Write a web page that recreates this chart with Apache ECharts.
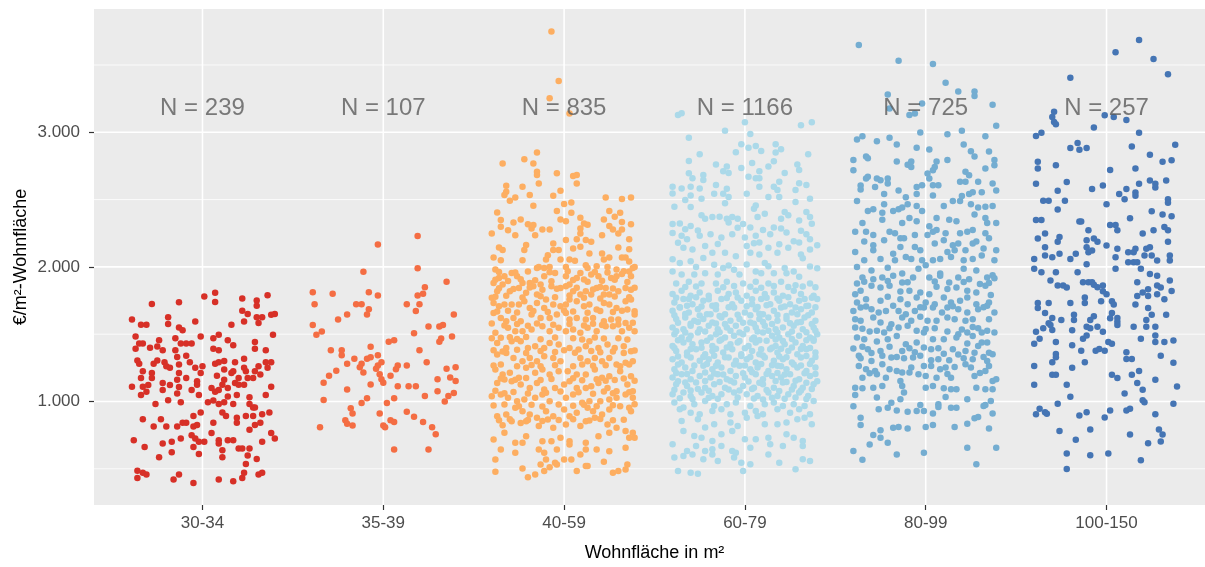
<!DOCTYPE html>
<html>
<head>
<meta charset="utf-8">
<title>€/m² nach Wohnfläche</title>
<script src="https://cdn.jsdelivr.net/npm/echarts@6.0.0/dist/echarts.min.js"></script>
<style>
  html, body { margin: 0; padding: 0; background: #fff; }
  #chart { width: 1205px; height: 567px; }
</style>
</head>
<body>
<div id="chart"></div>
<script>
// Kategorien und Anzahl je Gruppe
const categories = ['30-34', '35-39', '40-59', '60-79', '80-99', '100-150'];
const counts = [239, 107, 835, 1166, 725, 257];
const yTicks = [1000, 2000, 3000];
const yMinor = [500, 1500, 2500, 3500];
const nLabelY = 3180;

// Punkte je Gruppe: [Jitter-Versatz, €/m²]
const pts3034 = [
  [0.01,1780],[0.07,1808],[0.07,1740],[0.22,1765],[0.30,1750],[0.30,1712],[0.36,1790],[-0.28,1725],[-0.13,1738],[-0.39,1610],
  [-0.34,1570],[-0.31,1570],[-0.19,1625],[-0.19,1575],[-0.13,1550],[-0.11,1530],[-0.04,1595],[0.22,1675],[0.25,1650],[0.23,1595],
  [0.30,1625],[0.33,1625],[0.31,1583],[0.38,1645],[0.40,1650],[0.16,1570],[0.39,1495],
  [-0.37,1482],[-0.35,1430],[-0.33,1430],[-0.37,1392],[-0.29,1400],[-0.25,1408],[-0.24,1455],[-0.22,1380],[-0.15,1470],[-0.15,1380],
  [-0.12,1430],[-0.09,1430],[-0.06,1430],[-0.01,1482],[0.06,1470],[0.09,1495],[0.06,1392],[0.09,1380],[0.14,1455],[0.17,1418],
  [0.29,1442],[0.29,1392],[0.35,1380],
  [-0.36,1305],[-0.35,1280],[-0.33,1225],[-0.34,1175],[-0.28,1212],[-0.28,1175],[-0.27,1280],[-0.25,1305],[-0.21,1292],[-0.20,1262],
  [-0.18,1250],[-0.14,1330],[-0.13,1275],[-0.09,1340],[-0.13,1212],[-0.14,1162],[-0.09,1175],[-0.07,1292],[-0.04,1250],[0.00,1262],
  [-0.01,1212],[-0.03,1150],[-0.03,1125],[0.07,1280],[0.09,1292],[0.12,1300],[0.12,1238],[0.18,1292],[0.17,1225],[0.23,1318],
  [0.23,1250],[0.31,1262],[0.35,1292],[0.38,1292],[0.36,1250],[0.29,1225],[0.32,1200],[0.24,1225],[0.20,1175],[0.25,1175],
  [0.28,1175],[0.08,1192],[0.12,1162],[0.16,1212],
  [-0.39,1110],[-0.33,1110],[-0.30,1122],[-0.34,1048],[-0.31,1072],[-0.22,1138],[-0.22,1085],[-0.18,1122],[-0.14,1060],[-0.13,1108],
  [-0.06,1085],[-0.02,1048],[0.05,1100],[0.07,1072],[0.09,1085],[0.11,1125],[0.14,1100],[0.14,1038],[0.18,1138],[0.19,1048],
  [0.20,1125],[0.23,1125],[0.38,1110],[0.35,1048],[0.26,1032],
  [-0.26,982],[-0.19,1010],[-0.12,995],[0.03,995],[0.06,1008],[0.09,982],[0.12,995],[0.17,982],[0.26,982],[0.28,955],[0.29,955],
  [-0.01,918],[0.11,918],[0.13,892],[0.19,880],[0.19,842],[0.24,892],[0.28,892],[0.33,905],[0.37,918],[0.32,842],[0.29,825],[0.26,790],
  [-0.33,868],[-0.23,868],[-0.27,815],[-0.20,815],[-0.14,815],[-0.11,842],[-0.09,842],[-0.05,815],[-0.03,825],[-0.05,892],
  [0.06,842],[0.05,765],[-0.06,750],[-0.04,725],[-0.02,700],[0.01,700],[-0.05,662],[-0.12,725],[-0.17,700],[-0.22,688],
  [-0.32,662],[-0.38,712],[-0.17,622],[-0.24,585],[-0.02,610],
  [0.09,712],[0.09,688],[0.14,712],[0.17,712],[0.11,638],[0.11,585],[0.20,650],[0.22,650],[0.26,650],[0.25,598],
  [0.30,572],[0.24,535],[0.33,700],[0.38,765],[0.40,725],
  [-0.36,485],[-0.36,432],[-0.33,470],[-0.31,458],[-0.13,458],[-0.16,420],[-0.05,395],[0.09,420],[0.17,408],[0.22,432],
  [0.23,470],[0.31,458],[0.33,470]
];

const pts3539 = [
  [0.19,2230],[-0.03,2166],[0.19,1990],[-0.11,1963],[0.35,1889],[0.23,1849],[-0.39,1812],[-0.28,1800],[-0.08,1812],[-0.03,1787],
  [0.19,1787],[0.22,1800],[-0.38,1723],[-0.15,1723],[-0.12,1723],[-0.08,1686],[-0.09,1646],[-0.20,1646],[-0.25,1609],[0.13,1723],
  [0.20,1723],[0.18,1673],[0.39,1646],[-0.39,1569],[-0.34,1520],[-0.37,1495],[0.25,1557],[0.31,1557],[0.33,1569],[0.17,1507],
  [0.38,1483],[0.32,1468],[0.31,1443],[0.03,1443],[0.06,1455],[-0.07,1406],[0.20,1381],[-0.29,1381],[-0.23,1381],[-0.23,1344],
  [-0.16,1317],[-0.09,1317],[-0.07,1329],[-0.03,1344],[-0.01,1292],[-0.12,1280],[-0.13,1255],[-0.20,1280],[-0.26,1228],[-0.30,1191],
  [-0.04,1243],[-0.03,1267],[-0.11,1215],[-0.02,1203],[-0.01,1166],[0.00,1139],[0.08,1267],[0.07,1240],[0.13,1267],[0.24,1292],
  [0.04,1191],[0.35,1243],[0.40,1255],[0.37,1178],[0.40,1153],[0.30,1166],[-0.33,1139],[-0.20,1089],[-0.07,1126],[0.08,1114],
  [0.14,1114],[0.18,1114],[0.23,1040],[0.30,1077],[0.39,1064],[0.36,1040],[0.34,1000],[-0.33,1012],[-0.09,1025],[-0.12,988],
  [0.02,988],[0.06,1025],[-0.18,950],[-0.17,911],[-0.21,861],[-0.20,834],[-0.17,822],[-0.35,809],[-0.02,911],[0.00,822],
  [0.01,809],[0.04,861],[0.06,847],[0.13,923],[0.17,886],[0.22,847],[0.27,809],[0.29,757],[0.06,644],[0.25,644]
];

const pts4059 = [
  [-0.07,3749],[-0.03,3382],[-0.08,3253],[0.03,3139],[-0.15,2849],[-0.34,2769],[-0.22,2799],[-0.17,2769],[-0.15,2707],[-0.15,2683],
  [-0.14,2620],[-0.04,2695],[0.05,2675],[0.07,2683],[0.07,2620],[-0.32,2603],[-0.32,2559],[-0.33,2534],[-0.30,2492],[-0.27,2516],
  [-0.23,2596],[-0.19,2534],[-0.06,2529],[-0.02,2566],[-0.17,2454],[0.00,2467],[0.04,2479],[0.23,2516],[0.32,2504],[0.37,2516],
  [-0.37,2405],[-0.35,2348],[-0.28,2330],[-0.24,2353],[-0.35,2298],[-0.31,2273],[-0.27,2236],[-0.40,2249],[-0.20,2316],[-0.18,2286],
  [-0.12,2278],[-0.08,2278],[-0.17,2311],[-0.04,2415],[-0.02,2353],[0.01,2340],[0.04,2402],[0.09,2365],[0.11,2323],[0.13,2313],
  [0.09,2286],[0.09,2249],[0.22,2353],[0.25,2415],[0.28,2373],[0.31,2402],[0.32,2333],[0.37,2316],[0.25,2303],[0.27,2278],
  [0.30,2249],[0.32,2278],[0.21,2236],[0.36,2206],[-0.21,2162],[-0.22,2125],[-0.34,2125],[-0.36,2144],[-0.39,2070],[-0.35,2050],
  [-0.23,2050],[-0.16,2236],[-0.06,2174],[-0.06,2125],[-0.03,2125],[0.01,2199],[0.07,2206],[0.05,2137],[0.09,2149],[0.12,2199],
  [0.15,2187],[0.14,2100],[-0.09,2087],[-0.10,2055],[-0.02,2055],[0.03,2055],[0.06,2045],[0.21,2100],[0.22,2055],[0.25,2070],
  [0.30,2144],[0.36,2132],[0.32,2070],[0.34,2070],[0.36,2040],[-0.14,2000],[-0.08,2000],[0.01,2000],[0.12,2013],[0.18,2005],
  [0.24,2000],[0.39,2000],
  [-0.38,1980],[-0.15,1992],[-0.11,1992],[0.13,1992],[0.29,1980],[0.38,1992],
  [-0.39,1881],[-0.36,1918],[-0.33,1930],[-0.29,1955],[-0.26,1930],[-0.23,1881],[-0.19,1881],[-0.13,1869],[-0.11,1930],[-0.05,1955],
  [0.01,1930],[0.03,1869],[0.07,1918],[0.11,1906],[0.15,1943],[0.19,1930],[0.23,1844],[0.26,1918],[0.29,1930],[0.33,1967],[0.37,1930],
  [-0.40,1770],[-0.37,1819],[-0.34,1869],[-0.30,1819],[-0.25,1844],[-0.21,1807],[-0.17,1856],[-0.15,1794],[-0.10,1757],[-0.07,1856],
  [-0.02,1844],[0.01,1856],[0.05,1819],[0.09,1794],[0.12,1819],[0.15,1794],[0.18,1844],[0.22,1794],[0.25,1794],[0.30,1819],
  [0.34,1844],[0.37,1831],
  [-0.39,1732],[-0.36,1708],[-0.33,1720],[-0.29,1720],[-0.25,1720],[-0.22,1745],[-0.19,1695],[-0.15,1732],[-0.11,1695],[-0.06,1720],
  [-0.02,1708],[0.01,1720],[0.03,1757],[0.07,1745],[0.11,1708],[0.14,1720],[0.18,1683],[0.22,1732],[0.25,1720],[0.29,1695],
  [0.34,1745],[0.37,1757],[0.35,1683],
  [-0.39,1658],[-0.35,1621],[-0.32,1596],[-0.28,1621],[-0.24,1596],[-0.18,1646],[-0.13,1621],[-0.08,1621],[-0.04,1646],[0.01,1658],
  [0.03,1609],[0.07,1621],[0.12,1609],[0.16,1621],[0.22,1596],[0.26,1609],[0.30,1609],[0.34,1584],[0.39,1646],
  [-0.38,1510],[-0.35,1473],[-0.31,1547],[-0.27,1522],[-0.23,1522],[-0.18,1534],[-0.12,1559],[-0.08,1522],[-0.03,1547],[0.01,1522],
  [0.05,1534],[0.09,1510],[0.13,1547],[0.18,1522],[0.23,1559],[0.27,1559],[0.32,1522],[0.36,1547],[0.39,1522],
  [-0.37,1435],[-0.32,1398],[-0.29,1448],[-0.24,1448],[-0.20,1398],[-0.16,1411],[-0.11,1398],[-0.08,1435],[-0.03,1423],[0.03,1398],
  [0.08,1386],[0.12,1411],[0.14,1448],[0.19,1398],[0.24,1423],[0.28,1398],[0.33,1411],[0.37,1374],
  [-0.37,1349],[-0.32,1361],[-0.28,1324],[-0.23,1299],[-0.19,1324],[-0.15,1299],[-0.11,1336],[-0.06,1324],[-0.02,1299],[0.09,1324],
  [0.13,1299],[0.17,1324],[0.21,1299],[0.25,1324],[0.29,1275],[0.34,1287],[0.38,1299],
  [-0.38,1237],[-0.34,1200],[-0.30,1213],[-0.25,1176],[-0.21,1250],[-0.16,1213],[-0.12,1237],[-0.08,1200],[-0.03,1225],[0.02,1225],
  [0.07,1200],[0.12,1200],[0.17,1237],[0.21,1176],[0.25,1188],[0.31,1225],[0.37,1188],
  [-0.37,1138],[-0.33,1163],[-0.29,1151],[-0.24,1126],[-0.19,1101],[-0.15,1138],[-0.11,1089],[-0.05,1101],[0.00,1126],[0.03,1151],
  [0.07,1101],[0.12,1101],[0.15,1114],[0.19,1138],[0.24,1101],[0.29,1077],[0.35,1126],[0.38,1077],
  [-0.40,1039],[-0.35,1052],[-0.31,1027],[-0.26,1002],[-0.22,1015],[-0.16,1027],[-0.12,1052],[-0.08,1002],[0.01,1027],[0.05,1052],
  [0.10,990],[0.14,1002],[0.20,1002],[0.25,1015],[0.29,1027],[0.34,1052],[0.38,1027],
  [-0.37,891],[-0.32,903],[-0.27,953],[-0.23,928],[-0.19,903],[-0.15,879],[-0.10,928],[-0.06,891],[0.00,940],[0.03,891],
  [0.07,916],[0.13,953],[0.16,928],[0.21,903],[0.25,940],[0.31,965],[0.36,953],[0.37,928],
  [-0.34,824],[-0.29,854],[-0.24,841],[-0.21,854],[-0.14,817],[-0.09,866],[-0.06,804],[0.01,829],[0.09,817],[0.12,854],
  [0.17,879],[0.24,829],[0.29,804],[0.34,780],[0.38,767],
  [-0.39,718],[-0.33,767],[-0.27,693],[-0.23,693],[-0.21,742],[-0.12,705],[-0.07,705],[-0.02,730],[0.03,705],[0.12,693],
  [0.19,742],[0.25,767],[0.36,730],[0.39,730],
  [-0.35,643],[-0.27,619],[-0.14,643],[-0.11,619],[-0.04,643],[0.03,681],[0.09,606],[0.12,643],[0.18,643],[0.25,631],[0.34,656],
  [-0.38,569],[-0.23,502],[-0.13,532],[-0.10,569],[-0.05,544],[0.00,569],[0.04,569],[0.12,520],[0.13,520],[0.22,552],[0.35,532],
  [-0.38,478],[-0.20,438],[-0.16,458],[-0.11,483],[-0.08,512],[-0.04,532],[0.07,483],[0.27,470],[0.30,483],[0.34,495],
  // dichter Kern, geschätzt
  [-0.36,1962],[-0.27,1958],[-0.20,1965],[-0.08,1960],[0.02,1968],[0.09,1955],[0.17,1962],[0.24,1958],[0.32,1947],[0.36,1965],
  [-0.38,1905],[-0.31,1895],[-0.24,1908],[-0.16,1900],[-0.07,1893],[0.05,1902],[0.13,1890],[0.21,1897],[0.28,1905],[0.35,1888],
  [-0.36,1842],[-0.28,1835],[-0.19,1847],[-0.12,1830],[-0.04,1838],[0.07,1845],[0.16,1832],[0.20,1850],[0.27,1840],[0.39,1845],
  [-0.38,1778],[-0.32,1785],[-0.23,1772],[-0.13,1781],[-0.05,1775],[0.03,1788],[0.11,1770],[0.20,1765],[0.28,1780],[0.36,1775],
  [-0.37,1668],[-0.31,1675],[-0.26,1662],[-0.17,1672],[-0.09,1665],[0.00,1676],[0.05,1668],[0.13,1660],[0.20,1672],[0.27,1664],[0.32,1675],[0.39,1670],
  [-0.40,1580],[-0.33,1565],[-0.26,1575],[-0.20,1562],[-0.15,1580],[-0.06,1570],[0.03,1575],[0.11,1565],[0.16,1578],[0.21,1568],[0.30,1572],[0.38,1585],
  [-0.40,1470],[-0.30,1478],[-0.26,1465],[-0.21,1480],[-0.13,1462],[-0.05,1475],[0.05,1470],[0.10,1460],[0.17,1476],[0.22,1468],[0.30,1470],[0.35,1460],
  [-0.39,1380],[-0.34,1372],[-0.26,1385],[-0.21,1360],[-0.13,1375],[-0.05,1368],[0.00,1380],[0.06,1362],[0.15,1376],[0.20,1365],[0.27,1372],[0.33,1360],[0.39,1378],
  [-0.39,1268],[-0.35,1275],[-0.26,1262],[-0.18,1272],[-0.13,1262],[-0.05,1270],[0.05,1262],[0.10,1275],[0.16,1265],[0.23,1270],[0.31,1262],[0.36,1275],
  [-0.35,1170],[-0.27,1162],[-0.21,1175],[-0.13,1160],[-0.07,1168],[0.05,1172],[0.10,1158],[0.18,1165],[0.23,1155],[0.28,1160],[0.33,1170],[0.39,1155],
  [-0.38,1080],[-0.33,1062],[-0.28,1070],[-0.20,1060],[-0.10,1065],[-0.02,1075],[0.08,1068],[0.16,1058],[0.22,1075],[0.27,1062],[0.36,1068],
  [-0.39,970],[-0.33,978],[-0.25,965],[-0.18,975],[-0.12,962],[-0.03,978],[0.05,968],[0.11,975],[0.18,965],[0.27,972],[0.39,980],
  [-0.36,860],[-0.30,868],[-0.20,862],[-0.12,855],[-0.03,862],[0.05,868],[0.14,858],[0.20,870],[0.27,860],[0.33,865]
];

const pts6079 = [
  [-0.37,3129],[-0.35,3141],[0.00,3074],[-0.11,3012],[0.03,2988],[0.31,3052],[0.37,3074],[-0.31,2960],[-0.02,2911],[-0.05,2851],
  [0.02,2886],[0.06,2898],[0.09,2861],[0.17,2911],[0.20,2874],[0.17,2849],[-0.25,2836],[0.35,2836],[-0.31,2787],[-0.16,2760],
  [-0.10,2745],[-0.12,2710],[-0.09,2697],[0.04,2772],[-0.02,2735],[0.13,2745],[0.08,2710],[0.16,2784],[0.29,2760],[0.30,2720],
  [0.22,2697],[-0.31,2695],[-0.29,2658],[-0.23,2683],[-0.23,2645],[0.02,2670],[0.06,2658],[0.08,2658],[0.19,2633],[0.30,2621],
  [0.34,2608],[-0.40,2596],[-0.35,2583],[-0.30,2596],[-0.25,2583],[-0.16,2608],[-0.10,2581],[0.08,2596],[0.16,2596],[0.18,2571],
  [0.28,2571],[-0.40,2546],[-0.33,2497],[-0.30,2531],[-0.24,2506],[-0.17,2544],[-0.12,2544],[-0.09,2519],[0.01,2544],[0.13,2519],
  [0.19,2519],[0.28,2482],[0.36,2506],[-0.39,2447],[-0.30,2445],[-0.11,2472],[0.06,2457],[0.05,2432],[0.22,2407],[0.34,2407],
  [-0.40,2318],[-0.36,2323],[-0.30,2303],[-0.24,2383],[-0.22,2358],[-0.18,2370],[-0.14,2373],[-0.10,2358],[-0.07,2370],[-0.04,2358],
  [-0.09,2330],[-0.01,2318],[0.03,2293],[0.07,2370],[0.11,2395],[0.16,2293],[0.20,2358],[0.24,2383],[0.30,2345],[0.36,2370],
  [0.37,2321],[-0.40,2251],[-0.35,2231],[-0.32,2206],[-0.25,2231],[-0.19,2243],[-0.13,2219],[-0.07,2243],[0.00,2219],[0.06,2231],
  [0.08,2182],[0.14,2243],[0.23,2256],[0.30,2182],[0.34,2243],[0.36,2206],[-0.34,2142],[-0.29,2130],[-0.22,2155],[-0.18,2105],
  [-0.11,2105],[-0.05,2080],[0.01,2155],[0.03,2105],[0.08,2093],[0.13,2142],[0.18,2105],[0.24,2142],[0.31,2093],[0.36,2130],
  [-0.40,2056],[-0.36,2029],[-0.30,2041],[-0.23,2066],[-0.17,2016],[-0.12,1991],[-0.06,1978],[0.01,2018],[0.06,1966],[0.11,2029],
  [0.16,1953],[0.22,1991],[0.27,1966],[0.32,2065],[0.36,2003],[-0.40,1966],[-0.35,1944],[-0.28,1944],[-0.22,1953],[-0.15,1944],
  [-0.03,1944],[0.09,1953],[0.23,1953],[0.30,1926],[-0.38,1877],[-0.31,1889],[-0.24,1877],[-0.16,1877],[-0.10,1889],[-0.01,1877],
  [0.06,1889],[0.13,1877],[0.20,1889],[0.28,1864],[0.36,1877],
  [-0.40,1798],[-0.35,1823],[-0.30,1785],[-0.25,1810],[-0.20,1785],[-0.15,1823],[-0.09,1798],[-0.05,1810],[0.01,1785],[0.06,1823],
  [0.11,1798],[0.16,1810],[0.21,1785],[0.27,1823],[0.31,1798],[0.38,1785],
  [-0.39,1736],[-0.34,1761],[-0.29,1723],[-0.23,1748],[-0.18,1711],[-0.13,1761],[-0.07,1723],[-0.02,1748],[0.04,1723],[0.09,1761],
  [0.14,1723],[0.19,1748],[0.25,1723],[0.30,1748],[0.35,1711],[0.40,1761],
  [-0.40,1674],[-0.36,1699],[-0.31,1661],[-0.26,1686],[-0.21,1649],[-0.16,1686],[-0.11,1649],[-0.06,1699],[0.00,1661],[0.06,1686],
  [0.10,1649],[0.16,1674],[0.20,1699],[0.26,1661],[0.31,1686],[0.37,1661],
  [-0.38,1612],[-0.33,1624],[-0.28,1599],[-0.23,1612],[-0.18,1587],[-0.13,1624],[-0.08,1599],[-0.03,1612],[0.03,1587],[0.08,1612],
  [0.13,1624],[0.18,1599],[0.23,1612],[0.29,1587],[0.33,1624],[0.39,1599],
  [-0.40,1550],[-0.34,1537],[-0.30,1562],[-0.25,1537],[-0.20,1562],[-0.15,1537],[-0.10,1550],[-0.05,1562],[0.01,1537],[0.06,1550],
  [0.11,1562],[0.17,1537],[0.21,1550],[0.27,1562],[0.32,1537],[0.38,1550],
  [-0.39,1500],[-0.35,1475],[-0.30,1488],[-0.26,1513],[-0.19,1475],[-0.16,1500],[-0.11,1475],[-0.06,1488],[-0.01,1500],[0.05,1475],
  [0.10,1513],[0.15,1488],[0.19,1475],[0.24,1500],[0.30,1488],[0.36,1475],[0.40,1500],
  [-0.40,1413],[-0.34,1438],[-0.29,1426],[-0.24,1438],[-0.18,1413],[-0.14,1451],[-0.08,1426],[-0.04,1438],[0.02,1413],[0.06,1438],
  [0.12,1451],[0.17,1413],[0.22,1426],[0.28,1438],[0.32,1413],[0.38,1451],
  [-0.38,1376],[-0.32,1364],[-0.27,1389],[-0.22,1351],[-0.18,1376],[-0.12,1364],[-0.07,1389],[-0.02,1351],[0.04,1376],[0.08,1351],
  [0.14,1389],[0.18,1364],[0.24,1376],[0.29,1351],[0.34,1389],[0.39,1364],
  [-0.40,1314],[-0.35,1289],[-0.30,1327],[-0.25,1302],[-0.20,1314],[-0.15,1289],[-0.09,1327],[-0.05,1302],[0.01,1314],[0.06,1289],
  [0.11,1327],[0.16,1302],[0.21,1314],[0.26,1289],[0.31,1327],[0.37,1302],
  [-0.39,1240],[-0.33,1252],[-0.29,1227],[-0.23,1265],[-0.18,1240],[-0.13,1252],[-0.08,1227],[-0.03,1265],[0.03,1240],[0.07,1252],
  [0.13,1227],[0.18,1265],[0.23,1240],[0.29,1252],[0.34,1227],[0.39,1252],
  [-0.40,1178],[-0.35,1203],[-0.30,1165],[-0.25,1190],[-0.19,1178],[-0.15,1203],[-0.10,1165],[-0.05,1190],[0.00,1178],[0.06,1203],
  [0.10,1165],[0.15,1190],[0.20,1178],[0.25,1203],[0.30,1165],[0.36,1190],
  [-0.38,1128],[-0.32,1116],[-0.27,1141],[-0.22,1103],[-0.17,1128],[-0.11,1103],[-0.06,1141],[-0.01,1116],[0.05,1103],[0.10,1128],
  [0.16,1103],[0.21,1141],[0.27,1116],[0.32,1103],[0.38,1128],
  [-0.40,1054],[-0.34,1066],[-0.30,1041],[-0.24,1066],[-0.18,1041],[-0.13,1054],[-0.06,1066],[0.01,1054],[0.07,1041],[0.13,1066],
  [0.18,1041],[0.24,1054],[0.30,1066],[0.35,1041],
  [-0.39,992],[-0.34,955],[-0.28,979],[-0.22,1004],[-0.17,967],[-0.10,979],[-0.05,992],[0.03,967],[0.11,979],[0.16,992],
  [0.21,967],[0.27,979],[0.33,967],[0.38,1004],
  [-0.36,942],[-0.30,917],[-0.25,905],[-0.18,930],[-0.13,942],[-0.08,905],[0.00,917],[0.06,930],[0.10,905],[0.18,942],
  [0.25,917],[0.30,942],[0.36,905],
  [-0.35,855],[-0.26,868],[-0.22,806],[-0.17,831],[-0.08,843],[-0.04,818],[0.01,880],[0.07,893],[0.11,831],[0.18,831],
  [0.23,843],[0.29,868],[0.33,880],[0.37,831],
  [-0.34,781],[-0.28,744],[-0.24,731],[-0.18,707],[-0.13,756],[-0.07,781],[0.00,719],[0.06,719],[0.13,731],[0.23,756],[0.27,731],[0.32,707],
  [-0.40,682],[-0.32,632],[-0.27,669],[-0.22,632],[-0.18,645],[-0.13,669],[-0.07,632],[-0.05,620],[0.03,657],[0.14,682],[0.21,669],[0.32,669],
  [-0.39,583],[-0.34,595],[-0.29,607],[-0.23,570],[-0.18,607],[-0.15,558],[-0.06,583],[-0.02,545],[0.03,533],[0.13,607],
  [0.19,545],[0.32,570],[0.36,558],
  [-0.37,483],[-0.30,471],[-0.26,464],[-0.01,483],[0.28,496],
  // dichter Kern, geschätzt
  [-0.38,1770],[-0.31,1762],[-0.27,1775],[-0.20,1760],[-0.10,1768],[-0.04,1772],[0.04,1760],[0.12,1770],[0.18,1765],[0.24,1775],[0.33,1762],[0.37,1770],
  [-0.36,1700],[-0.32,1712],[-0.24,1705],[-0.16,1715],[-0.09,1700],[0.01,1708],[0.07,1702],[0.12,1715],[0.22,1705],[0.28,1698],[0.34,1710],[0.39,1700],
  [-0.39,1640],[-0.33,1650],[-0.25,1638],[-0.19,1648],[-0.14,1636],[-0.04,1645],[0.03,1640],[0.08,1652],[0.18,1642],[0.23,1635],[0.29,1648],[0.35,1640],
  [-0.37,1585],[-0.30,1578],[-0.26,1590],[-0.16,1580],[-0.11,1575],[-0.01,1585],[0.05,1578],[0.10,1590],[0.15,1575],[0.25,1582],[0.31,1590],[0.37,1576],
  [-0.38,1522],[-0.33,1512],[-0.22,1520],[-0.14,1515],[-0.08,1525],[-0.03,1512],[0.07,1520],[0.13,1526],[0.18,1512],[0.26,1520],[0.34,1515],[0.39,1525],
  [-0.37,1455],[-0.31,1462],[-0.21,1452],[-0.13,1460],[-0.03,1450],[0.04,1462],[0.08,1455],[0.17,1460],[0.21,1450],[0.26,1465],[0.34,1455],[0.38,1462],
  [-0.39,1398],[-0.30,1390],[-0.24,1400],[-0.16,1392],[-0.10,1402],[0.00,1395],[0.09,1388],[0.15,1400],[0.20,1392],[0.26,1402],[0.31,1390],[0.36,1398],
  [-0.37,1335],[-0.32,1342],[-0.23,1330],[-0.17,1340],[-0.11,1328],[-0.02,1338],[0.03,1330],[0.10,1342],[0.19,1335],[0.23,1328],[0.34,1338],[0.39,1330],
  [-0.37,1275],[-0.28,1268],[-0.21,1278],[-0.16,1265],[-0.06,1275],[0.00,1268],[0.09,1278],[0.15,1270],[0.20,1262],[0.27,1275],[0.31,1268],[0.36,1278],
  [-0.38,1212],[-0.32,1205],[-0.22,1215],[-0.17,1208],[-0.12,1200],[-0.01,1210],[0.04,1218],[0.12,1205],[0.18,1212],[0.22,1200],[0.33,1210],[0.39,1205],
  [-0.37,1150],[-0.33,1142],[-0.22,1152],[-0.14,1145],[-0.08,1155],[0.02,1148],[0.08,1140],[0.17,1152],[0.23,1145],[0.28,1155],[0.34,1140],[0.40,1150],
  [-0.39,1088],[-0.30,1082],[-0.26,1092],[-0.20,1080],[-0.09,1090],[-0.03,1082],[0.04,1092],[0.12,1085],[0.19,1078],[0.26,1090],[0.31,1082],[0.37,1092],
  [-0.36,1025],[-0.29,1018],[-0.20,1028],[-0.15,1020],[-0.04,1030],[0.05,1022],[0.10,1015],[0.15,1028],[0.22,1020],[0.28,1030],[0.34,1018],
  [-0.33,1850],[-0.27,1855],[-0.12,1848],[-0.06,1858],[0.03,1852],[0.09,1845],[0.16,1858],[0.24,1850],[0.32,1855],[0.39,1848],
  [-0.33,2280],[-0.26,2270],[-0.04,2290],[0.10,2275],[0.20,2285],[0.31,2268],[-0.37,2180],[-0.15,2170],[0.05,2175],[0.19,2168],
  [0.27,2190],[0.40,2160],[-0.27,2000],[-0.09,2010],[0.13,2005],[0.40,1990]
];

const pts8099 = [
  [-0.37,3648],[-0.15,3532],[0.04,3507],[0.11,3368],[0.18,3304],[0.27,3304],[0.27,3269],[-0.21,3281],[-0.20,3177],[-0.09,3128],
  [-0.06,3140],[-0.02,3214],[0.37,3204],[0.39,3048],[-0.03,2999],[0.12,2986],[0.20,3011],[0.33,2971],[-0.38,2947],[-0.35,2971],
  [-0.27,2934],[-0.20,2959],[-0.16,2909],[-0.05,2885],[0.02,2872],[0.21,2909],[0.25,2860],[0.27,2820],[0.35,2857],[-0.33,2820],
  [-0.32,2808],[-0.40,2795],[-0.40,2718],[-0.16,2783],[0.12,2795],[0.38,2795],[0.38,2756],[-0.10,2758],[-0.08,2743],[-0.08,2783],
  [0.06,2783],[0.05,2743],[0.04,2718],[0.01,2694],[0.02,2656],[0.33,2731],[0.22,2706],[0.24,2681],[-0.33,2656],[-0.32,2669],
  [-0.27,2656],[-0.25,2644],[-0.21,2656],[-0.21,2619],[-0.36,2604],[-0.36,2575],[-0.28,2594],[-0.15,2567],[-0.05,2594],[-0.02,2607],
  [-0.05,2542],[0.04,2607],[0.07,2607],[0.04,2530],[0.19,2632],[0.22,2632],[0.29,2632],[0.37,2619],[0.39,2567],[0.24,2542],
  [0.26,2555],[0.31,2555],[-0.38,2490],[-0.23,2542],[-0.11,2518],[-0.10,2466],[0.10,2453],[0.15,2490],[0.19,2490],[0.20,2527],
  [0.25,2466],[0.29,2441],[0.33,2446],[0.37,2453],[-0.32,2416],[-0.29,2428],[-0.23,2466],[-0.24,2403],[-0.18,2416],[-0.15,2428],
  [-0.13,2441],[-0.05,2453],[-0.02,2416],[-0.24,2351],[-0.09,2364],[-0.05,2339],[-0.13,2327],[0.06,2364],[0.13,2351],[0.17,2339],
  [0.27,2389],[0.33,2364],[0.34,2327],[0.39,2327],[-0.35,2327],[-0.39,2262],[-0.33,2262],[-0.29,2237],[-0.20,2262],[-0.17,2250],
  [-0.14,2212],[-0.12,2212],[-0.06,2237],[0.02,2302],[0.04,2262],[0.06,2274],[0.01,2237],[0.11,2250],[0.19,2250],[0.23,2262],
  [0.26,2274],[0.33,2250],[0.35,2212],[0.28,2188],[-0.39,2111],[-0.34,2188],[-0.29,2160],[-0.29,2123],[-0.23,2198],[-0.18,2098],
  [-0.14,2148],[-0.11,2074],[-0.06,2148],[-0.03,2123],[0.05,2173],[0.10,2198],[0.12,2111],[0.15,2160],[0.16,2123],[0.18,2173],
  [0.22,2123],[0.26,2173],[0.32,2136],[0.39,2123],[-0.34,2049],[-0.25,2059],[-0.17,2049],[-0.08,2059],[-0.02,2049],[0.00,2012],
  [0.04,2049],[0.08,2059],[0.14,2074],[0.21,2049],[0.26,2059],[0.31,2084],[0.38,2049],[-0.38,2000],[-0.30,1974],[-0.21,1994],
  [-0.13,1950],[-0.04,1987],[0.08,1950],[0.21,1987],[0.28,1974],[0.37,1937],
  [-0.38,1877],[-0.35,1921],[-0.29,1909],[-0.24,1921],[-0.18,1934],[-0.13,1884],[-0.07,1921],[0.02,1921],[0.08,1934],[0.13,1884],
  [0.18,1921],[0.24,1909],[0.30,1872],[0.34,1921],[0.38,1916],
  [-0.39,1797],[-0.36,1822],[-0.30,1859],[-0.25,1847],[-0.20,1859],[-0.14,1817],[-0.09,1822],[-0.03,1810],[0.02,1797],[0.06,1852],
  [0.12,1835],[0.17,1847],[0.23,1822],[0.28,1810],[0.33,1859],[0.36,1792],
  [-0.38,1735],[-0.33,1760],[-0.25,1748],[-0.21,1778],[-0.14,1760],[-0.10,1723],[-0.05,1773],[0.00,1735],[0.05,1723],[0.10,1773],
  [0.14,1735],[0.19,1748],[0.23,1773],[0.28,1723],[0.35,1735],
  [-0.40,1673],[-0.36,1698],[-0.30,1686],[-0.26,1661],[-0.22,1673],[-0.15,1673],[-0.11,1649],[-0.06,1673],[-0.01,1698],[0.04,1698],
  [0.09,1661],[0.12,1698],[0.18,1686],[0.23,1661],[0.29,1686],[0.34,1711],[0.38,1661],
  [-0.39,1611],[-0.36,1599],[-0.29,1624],[-0.25,1587],[-0.19,1574],[-0.13,1624],[-0.08,1599],[-0.03,1629],[0.01,1599],[0.06,1599],
  [0.12,1624],[0.16,1611],[0.22,1599],[0.26,1611],[0.35,1611],
  [-0.39,1549],[-0.31,1520],[-0.27,1525],[-0.23,1512],[-0.15,1549],[-0.10,1562],[-0.05,1525],[-0.01,1512],[0.05,1544],[0.12,1520],
  [0.18,1500],[0.23,1512],[0.26,1554],[0.31,1512],[0.34,1525],[0.38,1512],
  [-0.38,1475],[-0.34,1463],[-0.27,1445],[-0.21,1463],[-0.16,1487],[-0.11,1425],[-0.05,1438],[0.04,1463],[0.10,1463],[0.17,1475],
  [0.23,1430],[0.26,1487],[0.31,1438],[0.34,1438],
  [-0.40,1393],[-0.35,1406],[-0.32,1388],[-0.25,1376],[-0.20,1406],[-0.13,1376],[-0.09,1396],[-0.01,1401],[0.03,1388],[0.07,1396],
  [0.15,1388],[0.22,1376],[0.29,1413],[0.35,1363],
  [-0.37,1339],[-0.36,1321],[-0.30,1301],[-0.24,1339],[-0.19,1326],[-0.16,1331],[-0.12,1321],[-0.07,1326],[-0.03,1339],[0.03,1306],
  [0.07,1314],[0.13,1306],[0.21,1321],[0.26,1314],[0.32,1331],[0.34,1301],[0.37,1351],
  [-0.37,1264],[-0.33,1239],[-0.28,1227],[-0.24,1277],[-0.20,1239],[-0.16,1227],[-0.13,1215],[-0.08,1252],[-0.01,1264],[0.03,1264],
  [0.08,1239],[0.11,1252],[0.16,1257],[0.22,1277],[0.25,1252],[0.33,1227],[0.35,1264],
  [-0.35,1177],[-0.27,1202],[-0.22,1177],[-0.14,1153],[-0.04,1202],[0.00,1190],[0.06,1177],[0.14,1177],[0.27,1190],[0.37,1153],[0.39,1165],
  [-0.39,1103],[-0.35,1098],[-0.29,1103],[-0.24,1115],[-0.13,1115],[-0.12,1066],[0.00,1103],[0.04,1115],[0.10,1098],[0.14,1091],
  [0.17,1091],[0.28,1103],[0.33,1091],[0.37,1091],
  [-0.39,1048],[-0.27,1029],[-0.19,991],[-0.14,1016],[-0.03,974],[0.07,979],[0.11,1034],[0.23,1016],[0.32,967],[0.36,1004],
  [-0.40,964],[-0.26,942],[-0.21,954],[-0.16,934],[-0.10,924],[-0.05,929],[-0.01,929],[0.04,910],[0.07,959],[0.14,954],
  [0.17,954],[0.33,974],[0.37,910],
  [-0.36,880],[-0.36,825],[-0.18,805],[-0.15,810],[-0.10,800],[0.00,810],[0.04,825],[0.16,810],[0.23,835],[0.27,875],[0.29,885],[0.35,800],
  [-0.29,751],[-0.25,786],[-0.25,731],[-0.21,694],[-0.31,681],[-0.40,632],[-0.16,607],[-0.01,619],[0.23,657],[0.39,657],
  [-0.35,567],[0.28,533],
  // dichter Kern, geschätzt
  [-0.34,1890],[-0.21,1895],[-0.10,1885],[0.05,1892],[0.21,1888],[0.35,1880],
  [-0.33,1705],[-0.18,1712],[-0.03,1700],[0.15,1708],[0.32,1700],
  [-0.35,1540],[-0.20,1545],[0.00,1538],[0.20,1535],[0.29,1545],
  [-0.30,1360],[-0.06,1365],[0.10,1355],[0.18,1350],[0.27,1362],
  [-0.31,1210],[-0.09,1215],[0.12,1205],[0.30,1212]
];

const pts100150 = [
  [0.18,3686],[0.05,3594],[0.26,3545],[0.34,3431],[-0.20,3406],[-0.29,3153],[-0.30,3113],[-0.29,3076],[-0.28,3059],[-0.01,3126],
  [0.04,3113],[0.11,3091],[-0.07,3036],[-0.39,2972],[-0.36,2997],[0.18,2997],[0.38,2908],[0.14,2895],[-0.20,2883],[-0.16,2920],
  [-0.15,2870],[-0.11,2883],[0.24,2833],[0.31,2781],[0.36,2793],[-0.38,2781],[-0.38,2731],[-0.28,2756],[0.02,2719],[0.16,2731],
  [-0.39,2617],[-0.22,2630],[-0.27,2565],[-0.08,2578],[-0.02,2605],[0.07,2541],[0.11,2578],[0.16,2553],[0.16,2528],[0.10,2503],
  [0.18,2617],[0.24,2642],[0.27,2617],[0.27,2590],[0.33,2642],[0.34,2503],[0.34,2476],[-0.35,2491],[-0.32,2491],[-0.23,2491],
  [-0.27,2426],[0.00,2466],[0.25,2414],[0.31,2389],[0.36,2377],[0.13,2362],[-0.39,2349],[-0.36,2349],[-0.15,2337],[-0.14,2337],
  [0.02,2312],[0.05,2312],[0.06,2273],[-0.10,2273],[-0.34,2248],[-0.38,2211],[-0.26,2223],[-0.27,2186],[0.20,2248],[0.26,2273],
  [0.32,2297],[0.34,2273],[-0.11,2198],[-0.07,2211],[-0.05,2186],[-0.34,2146],[-0.11,2146],[-0.10,2109],[-0.08,2121],[0.00,2159],
  [0.06,2134],[0.12,2109],[0.16,2134],[0.15,2109],[0.22,2134],[0.24,2146],[0.34,2186],[-0.40,2059],[-0.34,2084],[-0.30,2072],
  [-0.26,2097],[-0.20,2059],[-0.17,2097],[-0.11,2020],[0.05,2072],[0.12,2035],[0.15,2035],[0.17,2035],[0.21,2084],[0.25,2084],
  [0.28,2047],[0.35,2084],[0.35,2047],
  [-0.40,1987],[0.05,1987],[0.19,1987],[-0.36,1960],[-0.28,1960],[-0.16,1960],[0.24,1948],[0.28,1935],[-0.31,1898],[-0.27,1861],
  [-0.24,1861],[-0.22,1846],[-0.13,1886],[-0.10,1886],[-0.08,1886],[-0.07,1868],[-0.05,1849],[-0.02,1861],[-0.02,1819],[0.00,1797],
  [0.17,1886],[0.23,1834],[0.20,1809],[0.17,1784],[0.23,1784],[0.28,1861],[0.30,1846],[0.35,1898],[0.36,1821],[0.28,1797],
  [0.32,1759],[-0.38,1732],[-0.38,1695],[-0.32,1732],[-0.20,1732],[-0.12,1772],[-0.12,1732],[-0.03,1744],[0.03,1744],[0.04,1720],
  [0.16,1720],[0.23,1695],[-0.34,1658],[-0.30,1620],[-0.18,1645],[-0.18,1606],[-0.09,1606],[-0.07,1633],[0.03,1658],[0.02,1618],
  [0.06,1620],[0.06,1593],[0.06,1568],[0.25,1645],[0.33,1645],[0.22,1606],[-0.32,1581],[-0.31,1568],[-0.35,1544],[-0.30,1531],
  [-0.25,1606],[-0.11,1556],[-0.09,1544],[-0.05,1556],[-0.02,1519],[0.15,1556],[0.22,1556],[0.27,1556],[-0.39,1519],[-0.19,1529],
  [-0.37,1467],[-0.40,1429],[-0.28,1442],[-0.19,1417],[-0.13,1467],[-0.11,1491],[0.01,1442],[0.03,1429],[0.19,1467],[0.27,1491],
  [0.27,1442],[0.32,1442],[0.37,1454],[-0.14,1377],[-0.06,1377],[-0.04,1390],[-0.01,1377],[0.11,1365],[0.11,1315],[0.14,1315],
  [0.30,1340],[-0.28,1353],[-0.28,1328],[-0.30,1291],[-0.12,1291],[-0.40,1263],[-0.19,1251],[0.37,1288],[0.18,1226],[-0.30,1199],
  [-0.28,1199],[0.03,1199],[0.06,1174],[0.14,1199],[0.27,1162],[-0.40,1124],[-0.22,1124],[0.17,1137],[0.20,1087],[0.39,1112],
  [-0.20,1035],[0.10,1060],[0.20,1010],[0.21,995],[0.37,983],[-0.27,983],[-0.37,946],[-0.39,906],[-0.34,921],[-0.33,909],
  [-0.15,896],[-0.11,921],[0.02,933],[-0.01,881],[0.11,933],[0.13,946],[0.27,906],[-0.26,780],[-0.09,792],[-0.17,715],
  [0.13,755],[0.29,792],[0.31,755],[0.23,690],[0.30,703],[-0.22,614],[-0.09,601],[0.01,614],[0.19,564],[-0.22,499]
];

const groups = [pts3034, pts3539, pts4059, pts6079, pts8099, pts100150];
const palette = ['#D73027', '#F46D43', '#FDAE61', '#ABD9E9', '#74ADD1', '#4575B4'];
const fontFamily = 'Liberation Sans, Arial, sans-serif';

const chart = echarts.init(document.getElementById('chart'), null, { renderer: 'canvas' });

const fmtThousand = v => Math.round(v / 1000) + '.000';
const catIdx = categories.map((c, i) => i);

// Gitterlinien (weiß auf grau, wie ggplot): [0 = horizontal / 1 = vertikal, Wert]
const gridLineData = [
  ...yMinor.map(v => [0, v]),
  ...yTicks.map(v => [0, v]),
  ...catIdx.map(v => [1, v])
];

const gridSeries = {
  type: 'custom',
  z: 1,
  silent: true,
  animation: false,
  data: gridLineData,
  renderItem: (params, api) => {
    const cs = params.coordSys;
    const kind = api.value(0);
    const v = api.value(1);
    const major = kind === 1 || yTicks.indexOf(v) >= 0;
    const style = { stroke: '#ffffff', lineWidth: major ? 1.6 : 0.8 };
    if (kind === 0) {
      const y = api.coord([0, v])[1];
      return { type: 'line', shape: { x1: cs.x, y1: y, x2: cs.x + cs.width, y2: y }, style };
    }
    const x = api.coord([v, 1000])[0];
    return { type: 'line', shape: { x1: x, y1: cs.y, x2: x, y2: cs.y + cs.height }, style };
  }
};

const pointSeries = groups.map((pts, i) => ({
  name: categories[i],
  type: 'scatter',
  z: 2,
  symbol: 'circle',
  symbolSize: 6.5,
  itemStyle: { color: palette[i], opacity: 1 },
  animation: false,
  data: pts.map(p => [i + p[0], p[1]])
}));

const labelSeries = {
  type: 'scatter',
  z: 5,
  symbolSize: 1,
  silent: true,
  animation: false,
  itemStyle: { color: 'transparent' },
  label: {
    show: true,
    position: 'inside',
    formatter: p => 'N = ' + counts[p.dataIndex],
    fontFamily,
    fontSize: 24,
    color: '#5b5b5b'
  },
  data: catIdx.map(i => [i, nLabelY])
};

chart.setOption({
  animation: false,
  backgroundColor: '#ffffff',
  grid: {
    left: 94, top: 9, width: 1121, height: 496,
    outerBoundsMode: 'none',
    backgroundColor: '#EBEBEB', show: true, borderWidth: 0
  },
  xAxis: {
    type: 'value',
    min: -0.6,
    max: 5.6,
    name: 'Wohnfläche in m²',
    nameLocation: 'middle',
    nameGap: 39,
    nameTextStyle: { color: '#000', fontSize: 18, fontFamily },
    axisLine: { show: false, onZero: false },
    axisTick: { show: true, customValues: catIdx, length: 5, lineStyle: { color: '#333', width: 1.2 } },
    axisLabel: {
      customValues: catIdx,
      formatter: v => categories[Math.round(v)],
      margin: 10,
      color: '#4d4d4d',
      fontSize: 17,
      fontFamily
    },
    splitLine: { show: false }
  },
  yAxis: {
    type: 'value',
    min: 231,
    max: 3916,
    name: '€/m²-Wohnfläche',
    nameLocation: 'middle',
    nameRotate: 90,
    nameGap: 64,
    nameMoveOverlap: false,
    nameTextStyle: { color: '#000', fontSize: 18, fontFamily },
    axisLine: { show: false, onZero: false },
    axisTick: { show: true, customValues: yTicks, length: 5, lineStyle: { color: '#333', width: 1.2 } },
    axisLabel: {
      customValues: yTicks,
      formatter: fmtThousand,
      margin: 14,
      color: '#4d4d4d',
      fontSize: 17,
      fontFamily
    },
    splitLine: { show: false }
  },
  series: [gridSeries, ...pointSeries, labelSeries]
});
</script>
</body>
</html>
